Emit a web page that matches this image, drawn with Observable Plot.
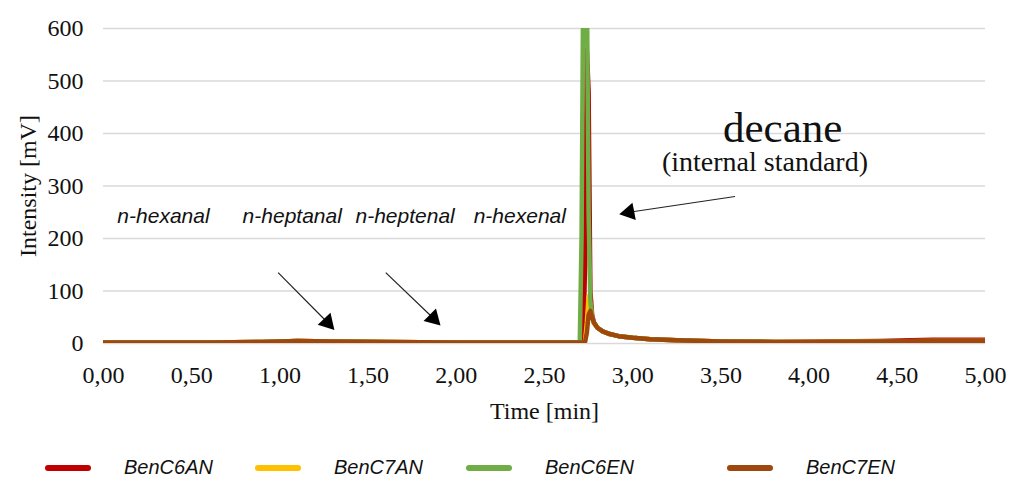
<!DOCTYPE html>
<html>
<head>
<meta charset="utf-8">
<script src="https://cdn.jsdelivr.net/npm/d3@7"></script>
<script src="https://cdn.jsdelivr.net/npm/@observablehq/plot@0.6"></script>
<style>
  html, body { margin: 0; padding: 0; background: #fff; }
  #wrap { width: 1013px; height: 479px; position: relative; overflow: hidden; }
  #legend { position: relative; width: 1013px; height: 39px; font-family: "Liberation Sans", Arial, sans-serif; font-style: italic; font-size: 20px; color: #111; }
  .item { position: absolute; top: 8px; height: 39px; display: flex; align-items: center; }
  .sw { width: 46px; height: 6px; border-radius: 3px; margin-right: 33px; }
</style>
</head>
<body>
<div id="wrap"><div id="chart"></div><div id="legend"></div></div>
<script>
// ---- data ----
const seriesNames = ["BenC6AN", "BenC7AN", "BenC6EN", "BenC7EN"];
const seriesColors = ["#C00000", "#FFC000", "#70AD47", "#9E480E"];
const time = [0, 0.3, 0.6, 0.9, 1.1, 1.3, 1.6, 2.0, 2.4, 2.65, 2.70, 2.71, 2.72, 2.73, 2.74, 2.75, 2.76, 2.77, 2.78, 2.80, 2.83, 2.87, 2.92, 3.0, 3.1, 3.25, 3.5, 3.8, 4.1, 4.4, 4.7, 5.0];
const benC6AN = [2, 2, 2, 3, 5, 4, 3, 2, 2, 2, 2, 2, 5, 150, 560, 480, 100, 55, 40, 30, 23, 18, 14, 11, 8, 6, 4, 3, 4, 5, 7, 7];
const benC7AN = [2, 2, 2, 3, 5, 4, 3, 2, 2, 2, 2, 2, 2, 5, 40, 90, 75, 50, 38, 30, 23, 18, 14, 11, 8, 6, 4, 3, 3, 4, 5, 5];
const benC6EN = [2, 2, 2, 3, 5, 4, 3, 2, 2, 2, 3, 200, 720, 720, 700, 250, 80, 50, 40, 30, 23, 18, 14, 11, 8, 6, 4, 3, 3, 4, 5, 5];
const benC7EN = [2, 2, 2, 3, 5, 4, 3, 2, 2, 2, 2, 2, 2, 3, 20, 55, 62, 50, 40, 30, 23, 18, 14, 11, 8, 6, 4, 3, 3, 4, 5, 5];
const yTicks = [0, 100, 200, 300, 400, 500, 600];
const xTicks = [0, 0.5, 1, 1.5, 2, 2.5, 3, 3.5, 4, 4.5, 5];
const peakLabels = ["n-hexanal", "n-heptanal", "n-heptenal", "n-hexenal"];
const peakLabelX = [0.34, 1.07, 1.71, 2.36];
const peakLabelY = [242, 242, 242, 242];
const arrows = [
  {x1: 0.99, y1: 135, x2: 1.27, y2: 40},
  {x1: 1.60, y1: 135, x2: 1.87, y2: 48},
  {x1: 3.58, y1: 280, x2: 2.98, y2: 250}
];

const allValues = [benC6AN, benC7AN, benC6EN, benC7EN];
const rows = [];
seriesNames.forEach((name, s) => {
  time.forEach((t, i) => rows.push({series: name, time: t, value: allValues[s][i]}));
});

const serif = "'Liberation Serif', 'Times New Roman', serif";
const plot = Plot.plot({
  width: 1013,
  height: 440,
  marginLeft: 103,
  marginRight: 28,
  marginTop: 28,
  marginBottom: 97,
  style: {fontFamily: serif, fontSize: "24px", color: "#111", background: "#fff"},
  x: {domain: [0, 5]},
  y: {domain: [0, 600]},
  color: {domain: seriesNames, range: seriesColors},
  marks: [
    Plot.gridY(yTicks, {stroke: "#d9d9d9", strokeOpacity: 1, strokeWidth: 1.3}),
    Plot.axisY(yTicks, {tickSize: 0, tickPadding: 20, fontSize: 24, fontFamily: serif, label: "Intensity [mV]", labelAnchor: "center", labelArrow: "none", labelOffset: 85}),
    Plot.axisX(xTicks, {tickSize: 0, tickPadding: 22, fontSize: 24, fontFamily: serif, tickFormat: d => d.toFixed(2).replace(".", ","), label: "Time [min]", labelAnchor: "center", labelArrow: "none", labelOffset: 75}),
    Plot.line(rows, {x: "time", y: "value", z: "series", stroke: "series", strokeWidth: 4.5, clip: true, strokeLinejoin: "round", strokeLinecap: "round"}),
    Plot.text(peakLabels, {x: (d, i) => peakLabelX[i], y: (d, i) => peakLabelY[i], text: d => d, fontFamily: "'Liberation Sans', Arial, sans-serif", fontStyle: "italic", fontSize: 21, fill: "#111"}),
    Plot.link(arrows, {x1: "x1", y1: "y1", x2: "x2", y2: "y2", stroke: "#222", strokeWidth: 1.2}),
    Plot.dot(arrows, {x: "x2", y: "y2", symbol: "triangle", r: 6.5, fill: "#000", stroke: "none",
      rotate: (d, i) => [137, 135, -101][i]}),
    Plot.text(["decane"], {x: 3.85, y: 410, text: d => d, fontSize: 43, fontFamily: serif, fill: "#111"}),
    Plot.text(["(internal standard)"], {x: 3.75, y: 345, text: d => d, fontSize: 28, fontFamily: serif, fill: "#111"})
  ]
});
document.getElementById("chart").appendChild(plot);

const legend = document.getElementById("legend");
const legendLeft = [45, 255, 466, 727];
seriesNames.forEach((name, i) => {
  const it = document.createElement("div");
  it.className = "item";
  it.style.left = legendLeft[i] + "px";
  const sw = document.createElement("div");
  sw.className = "sw";
  sw.style.background = seriesColors[i];
  const tx = document.createElement("span");
  tx.textContent = name;
  it.appendChild(sw); it.appendChild(tx);
  legend.appendChild(it);
});
</script>
</body>
</html>
